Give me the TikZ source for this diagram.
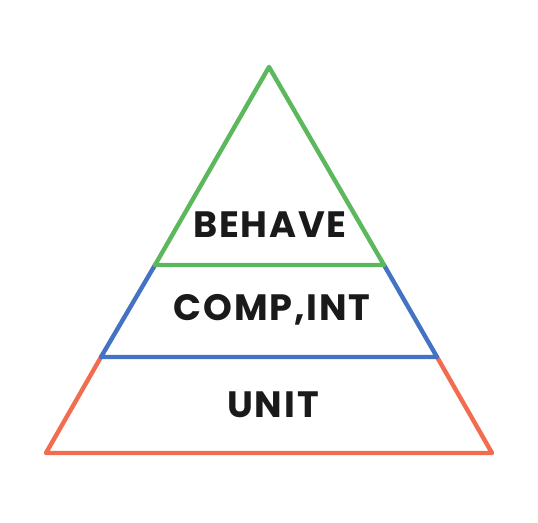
\documentclass[tikz,border=0pt]{standalone}
\usepackage{fontspec}
\newfontfamily\labelfont[LetterSpace=5]{Poppins Bold}
\usepackage{tikz}

\definecolor{topgreen}{HTML}{5CB85C}
\definecolor{midblue}{HTML}{4472C4}
\definecolor{baseorange}{HTML}{F26D4F}
\definecolor{labelgray}{HTML}{1A1A1A}

\tikzset{
    layer/.style={line width=3.3pt, line join=round, line cap=round},
    tag/.style={font=\labelfont\fontsize{27.5}{32}\selectfont, text=labelgray, inner sep=0pt}
}

\begin{document}
\begin{tikzpicture}[x=0.75pt, y=-0.75pt]
    \useasboundingbox (0,0) rectangle (538,522);
    \coordinate (apex) at (269,67);
    \coordinate (gl) at (155,265);
    \coordinate (gr) at (384,265);
    \coordinate (bl) at (101,357);
    \coordinate (br) at (437,357);
    \coordinate (ol) at (46,453);
    \coordinate (or) at (492,453);
    \draw[layer, baseorange] (bl) -- (ol) -- (or) -- (br);
    \draw[layer, midblue] (gl) -- (bl) -- (br) -- (gr);
    \draw[layer, topgreen] (apex) -- (gl) -- (gr) -- cycle;
    \node[tag] (behave) at (270,225) {BEHAVE};
    \node[tag] (compint) at (272,310) {COMP,INT};
    \node[tag] (unit) at (273,405) {UNIT};
\end{tikzpicture}
\end{document}
